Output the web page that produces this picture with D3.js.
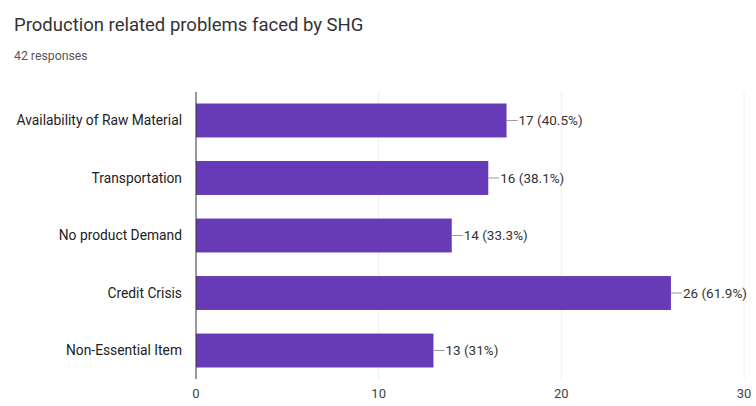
<!DOCTYPE html>
<html><head><meta charset="utf-8">
<script src="https://cdn.jsdelivr.net/npm/d3@7"></script>
<style>body{margin:0;background:#fff;font-family:Roboto,Arial,sans-serif}</style>
</head><body>
<svg id="c" width="756" height="406"></svg>
<script>
const categories = ["Availability of Raw Material","Transportation","No product Demand","Credit Crisis","Non-Essential Item"];
const counts = [17,16,14,26,13];
const percents = ["40.5%","38.1%","33.3%","61.9%","31%"];
const xTicks = [0,10,20,30];
const title = "Production related problems faced by SHG";
const subtitle = "42 responses";

const svg = d3.select("#c");
svg.append("text").attr("x",14).attr("y",31).attr("font-size",18.5).attr("fill","#333").text(title);
svg.append("text").attr("x",14).attr("y",60).attr("font-size",12.3).attr("fill","#555").text(subtitle);

const x = d3.scaleLinear().domain([0,30]).range([196,744]);
const y = d3.scaleBand().domain(categories).range([92,379]).paddingInner(0.41).paddingOuter(0.2);

// gridlines
svg.append("g").selectAll("line").data(xTicks.slice(1)).join("line")
  .attr("x1",d=>x(d)).attr("x2",d=>x(d)).attr("y1",92).attr("y2",379)
  .attr("stroke","#eee").attr("stroke-width",1);

svg.append("g").selectAll("rect").data(categories).join("rect")
  .attr("x",x(0)).attr("y",d=>y(d)).attr("height",y.bandwidth())
  .attr("width",(d,i)=>x(counts[i])-x(0)).attr("fill","#673ab7");

// axis line
svg.append("line").attr("x1",x(0)).attr("x2",x(0)).attr("y1",92).attr("y2",379).attr("stroke","#333").attr("stroke-width",1);

// category labels
svg.append("g").selectAll("text").data(categories).join("text")
  .attr("x",182).attr("y",d=>y(d)+y.bandwidth()/2).attr("dy","0.35em")
  .attr("text-anchor","end").attr("font-size",13.8).attr("fill","#222").text(d=>d);

// value labels
const vl = svg.append("g").selectAll("g").data(categories).join("g");
vl.append("line").attr("x1",(d,i)=>x(counts[i])).attr("x2",(d,i)=>x(counts[i])+11)
  .attr("y1",d=>y(d)+y.bandwidth()/2).attr("y2",d=>y(d)+y.bandwidth()/2)
  .attr("stroke","#999").attr("stroke-width",1);
vl.append("text").attr("x",(d,i)=>x(counts[i])+12).attr("y",d=>y(d)+y.bandwidth()/2).attr("dy","0.35em")
  .attr("font-size",13.5).attr("fill","#333").text((d,i)=>counts[i]+" ("+percents[i]+")");

// x tick labels
svg.append("g").selectAll("text").data(xTicks).join("text")
  .attr("x",d=>x(d)).attr("y",398).attr("text-anchor","middle")
  .attr("font-size",13).attr("fill","#444").text(d=>d);
</script>
</body></html>
